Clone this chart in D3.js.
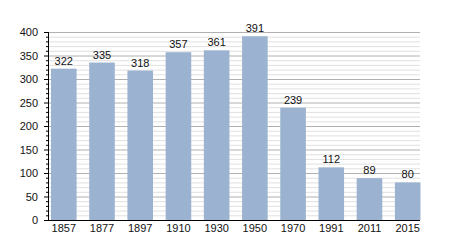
<!DOCTYPE html>
<html><head><meta charset="utf-8">
<script src="https://cdn.jsdelivr.net/npm/d3@7"></script>
<style>body{margin:0;background:#fff}svg{display:block}text{font-family:"Liberation Sans",Arial,sans-serif;font-size:11px;fill:#111}</style>
</head><body><svg id="c" width="450" height="250"></svg>
<script>
const years = ["1857","1877","1897","1910","1930","1950","1970","1991","2011","2015"];
const population = [322,335,318,357,361,391,239,112,89,80];
const yTicks = [0,50,100,150,200,250,300,350,400];

const svg = d3.select("#c");
const x = d3.scaleBand().domain(years).range([51,420.5]).paddingInner(0.33).paddingOuter(0);
const y = d3.scaleLinear().domain([0,400]).range([220,32]);
const left = 49, right = 420;

// minor grid
svg.append("g").selectAll("line").data(d3.range(10,401,10).filter(v=>v%50!==0)).join("line")
  .attr("x1",left).attr("x2",right).attr("y1",d=>y(d)+0.5).attr("y2",d=>y(d)+0.5)
  .attr("stroke","#e0e0e0").attr("stroke-width",1);
// major grid
svg.append("g").selectAll("line").data(yTicks.filter(v=>v>0)).join("line")
  .attr("x1",left).attr("x2",right).attr("y1",d=>y(d)+0.5).attr("y2",d=>y(d)+0.5)
  .attr("stroke","#b0b0b0").attr("stroke-width",1);

// bars
svg.append("g").selectAll("rect").data(population).join("rect")
  .attr("x",(d,i)=>x(years[i])).attr("width",x.bandwidth())
  .attr("y",d=>y(d)).attr("height",d=>y(0)-y(d))
  .attr("fill","#9bb3d0");

// value labels
svg.append("g").selectAll("text").data(population).join("text")
  .attr("x",(d,i)=>x(years[i])+x.bandwidth()/2).attr("y",d=>y(d)-4)
  .attr("text-anchor","middle").text(d=>d);

// y axis
const yAxis = svg.append("g");
yAxis.append("line").attr("x1",left-0.5).attr("x2",left-0.5).attr("y1",y(400)).attr("y2",y(0)).attr("stroke","#000");
yAxis.selectAll("line.minor").data(d3.range(10,400,10).filter(v=>v%50!==0)).join("line").attr("class","minor")
  .attr("x1",left-3).attr("x2",left).attr("y1",d=>y(d)+0.5).attr("y2",d=>y(d)+0.5).attr("stroke","#000");
yAxis.selectAll("line.major").data(yTicks).join("line").attr("class","major")
  .attr("x1",left-5).attr("x2",left).attr("y1",d=>y(d)+0.5).attr("y2",d=>y(d)+0.5).attr("stroke","#000");
yAxis.selectAll("text").data(yTicks).join("text")
  .attr("x",38).attr("y",d=>y(d)+4).attr("text-anchor","end").text(d=>d);

// x axis line
svg.append("line").attr("x1",left-5).attr("x2",right).attr("y1",y(0)+0.5).attr("y2",y(0)+0.5).attr("stroke","#000");
svg.append("g").selectAll("text").data(years).join("text")
  .attr("x",d=>x(d)+x.bandwidth()/2).attr("y",232).attr("text-anchor","middle").text(d=>d);
</script></body></html>
